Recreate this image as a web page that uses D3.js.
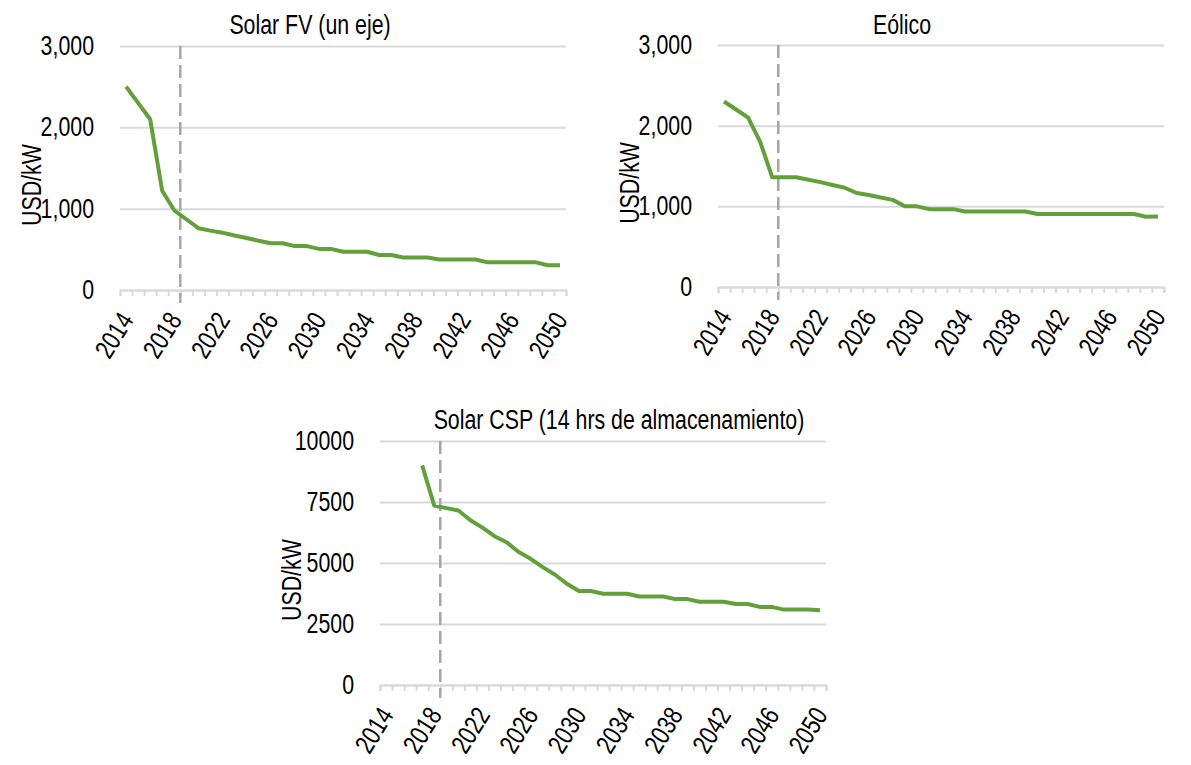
<!DOCTYPE html>
<html>
<head>
<meta charset="utf-8">
<script src="https://cdn.jsdelivr.net/npm/d3@7"></script>
<style>
    body { margin: 0; background: #fff; }
    text { font-family: "Liberation Sans Narrow", "Arial Narrow", "Liberation Sans", sans-serif; fill: #000; }
</style>
</head>
<body>
<div id="chart-area"></div>
<script>
var years = [2014, 2015, 2016, 2017, 2018, 2019, 2020, 2021, 2022, 2023, 2024, 2025, 2026,
    2027, 2028, 2029, 2030, 2031, 2032, 2033, 2034, 2035, 2036, 2037, 2038, 2039, 2040,
    2041, 2042, 2043, 2044, 2045, 2046, 2047, 2048, 2049, 2050];
var yearLabels = [2014, 2018, 2022, 2026, 2030, 2034, 2038, 2042, 2046, 2050];

var solarFV = [2500, 2300, 2100, 1220, 980, 870, 760, 730, 705, 670, 640, 605, 575,
    575, 540, 540, 505, 505, 470, 470, 470, 430, 430, 400, 400, 400, 375,
    375, 375, 375, 340, 340, 340, 340, 340, 305, 305];
var eolico = [2300, 2200, 2100, 1800, 1360, 1360, 1360, 1330, 1300, 1265, 1230, 1165, 1140,
    1110, 1080, 1000, 1000, 965, 965, 965, 935, 935, 935, 935, 935, 935, 905,
    905, 905, 905, 905, 905, 905, 905, 905, 870, 875];
var solarCSP = [null, null, null, 9000, 7350, 7250, 7150, 6750, 6450, 6100, 5850, 5450, 5170,
    4830, 4530, 4150, 3850, 3850, 3740, 3740, 3740, 3630, 3630, 3630, 3520, 3520, 3415,
    3415, 3415, 3320, 3320, 3200, 3200, 3090, 3090, 3090, 3060];

var ticksK = [0, 1000, 2000, 3000];
var ticksCSP = [0, 2500, 5000, 7500, 10000];
var titles = ["Solar FV (un eje)", "Eólico", "Solar CSP (14 hrs de almacenamiento)"];
var unitLabel = "USD/kW";
var cutYear = 2018.5;

var svg = d3.select("#chart-area")
    .append("svg")
    .attr("width", 1191)
    .attr("height", 765);

var fontSize = 27;
var lineColor = "#62a03b";
var gridColor = "#d9d9d9";

// squeeze text horizontally so it looks like a narrow face
function narrow(sel) {
    sel.each(function () {
        var len = this.getComputedTextLength();
        d3.select(this)
            .attr("textLength", len * 0.79)
            .attr("lengthAdjust", "spacingAndGlyphs");
    });
}

function drawChart(opt) {
    var width = opt.x1 - opt.x0,
        height = opt.y1 - opt.y0;

    var g = svg.append("g")
        .attr("transform", "translate(" + opt.x0 + "," + opt.y0 + ")");

    var x = d3.scaleLinear()
        .domain([years[0] - 0.5, years[years.length - 1] + 0.5])
        .range([0, width]);

    var y = d3.scaleLinear()
        .domain([0, d3.max(opt.ticks)])
        .range([height, 0]);

    // gridlines + y labels
    var yAxis = g.append("g")
        .attr("class", "y-axis")
        .call(d3.axisLeft(y).tickValues(opt.ticks).tickSize(-width).tickPadding(26).tickFormat(opt.format));
    yAxis.select(".domain").remove();
    yAxis.selectAll("line").attr("stroke", gridColor).attr("stroke-width", 2);
    yAxis.selectAll("text").attr("font-size", fontSize).attr("fill", "#000").call(narrow);

    // category axis, ticks between categories
    var bounds = years.map(function (d) { return d - 0.5; }).concat([years[years.length - 1] + 0.5]);
    var xAxis = g.append("g")
        .attr("class", "x-axis")
        .attr("transform", "translate(0," + height + ")")
        .call(d3.axisBottom(x).tickValues(bounds).tickSize(6).tickFormat(""));
    xAxis.select(".domain").attr("stroke", gridColor).attr("stroke-width", 2);
    xAxis.selectAll("line").attr("stroke", gridColor).attr("stroke-width", 2);

    var xLabels = g.append("g")
        .attr("transform", "translate(0," + height + ")")
        .call(d3.axisBottom(x).tickValues(yearLabels).tickSize(0).tickFormat(d3.format("d")));
    xLabels.select(".domain").remove();
    xLabels.selectAll("text")
        .attr("font-size", fontSize)
        .attr("fill", "#000")
        .style("text-anchor", "end")
        .attr("x", 0)
        .attr("y", 0)
        .attr("dy", 0)
        .attr("transform", "translate(8,30) rotate(-58)")
        .call(narrow);

    // forecast divider
    g.append("line")
        .attr("x1", x(cutYear))
        .attr("x2", x(cutYear))
        .attr("y1", 0)
        .attr("y2", height + 13)
        .attr("stroke", "#a6a6a6")
        .attr("stroke-width", 2.5)
        .attr("stroke-dasharray", "13,6");

    var line = d3.line()
        .defined(function (d) { return d != null; })
        .x(function (d, i) { return x(years[i]); })
        .y(function (d) { return y(d); });

    g.append("path")
        .datum(opt.values)
        .attr("fill", "none")
        .attr("stroke", lineColor)
        .attr("stroke-width", 4)
        .attr("stroke-linejoin", "round")
        .attr("d", line);

    g.append("text")
        .attr("x", opt.titleX - opt.x0)
        .attr("y", opt.titleY - opt.y0)
        .attr("text-anchor", "middle")
        .attr("font-size", fontSize)
        .text(opt.title)
        .call(narrow);

    g.append("text")
        .attr("transform", "translate(-79," + (height * 0.57) + ") rotate(-90)")
        .attr("text-anchor", "middle")
        .attr("font-size", fontSize)
        .text(unitLabel)
        .call(narrow);
}

drawChart({ x0: 120, x1: 566, y0: 46, y1: 290, values: solarFV, ticks: ticksK,
    format: d3.format(","), title: titles[0], titleX: 310, titleY: 34 });
drawChart({ x0: 718, x1: 1164, y0: 45, y1: 287, values: eolico, ticks: ticksK,
    format: d3.format(","), title: titles[1], titleX: 902, titleY: 34 });
drawChart({ x0: 380, x1: 826, y0: 441, y1: 685, values: solarCSP, ticks: ticksCSP,
    format: d3.format("d"), title: titles[2], titleX: 619, titleY: 429 });
</script>
</body>
</html>
